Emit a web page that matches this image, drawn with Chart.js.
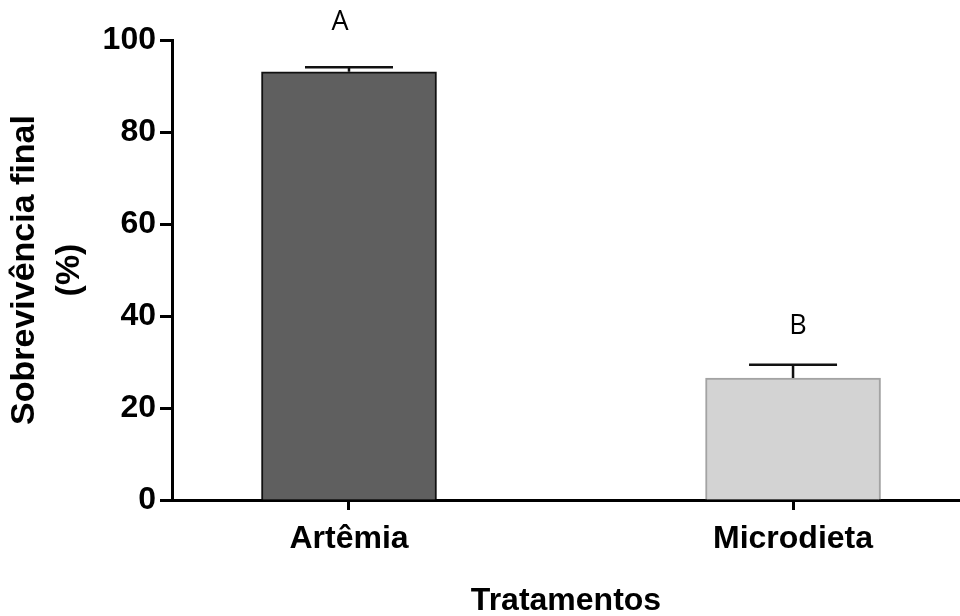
<!DOCTYPE html>
<html lang="pt">
<head>
<meta charset="utf-8">
<title>Sobrevivência final por tratamento</title>
<script src="https://cdn.jsdelivr.net/npm/chart.js@4.4.1/dist/chart.umd.min.js"></script>
<style>
  html, body { margin: 0; padding: 0; background: #ffffff; }
  #wrap { width: 960px; height: 616px; }
  canvas { display: block; }
</style>
</head>
<body>
<div id="wrap"><canvas id="chart" width="960" height="616"></canvas></div>
<script>
// Tratamentos e sobrevivência final (%) com desvio padrão
const categories = ['Artêmia', 'Microdieta'];
const survival = [93.1, 26.5];
const survivalError = [1.0, 2.9];
const groupLetters = ['A', 'B'];
const yTickValues = [0, 20, 40, 60, 80, 100];

const barFill = ['#5f5f5f', '#d3d3d3'];
const barBorder = ['#111111', '#a3a3a3'];

const fontFamily = '"Liberation Sans", Arial, Helvetica, sans-serif';
const boldFont = { family: fontFamily, size: 32, weight: 'bold' };

// Barras de erro (só para cima) e letras de significância
const errorBarsAndLetters = {
  id: 'errorBarsAndLetters',
  afterDatasetsDraw(chart, args, opts) {
    const ctx = chart.ctx;
    const y = chart.scales.y;
    const meta = chart.getDatasetMeta(0);
    ctx.save();
    meta.data.forEach((bar, i) => {
      const yBar = y.getPixelForValue(survival[i]);
      const yTop = y.getPixelForValue(survival[i] + survivalError[i]);
      ctx.strokeStyle = '#111111';
      ctx.lineWidth = 2.5;
      ctx.beginPath();
      ctx.moveTo(bar.x, yBar);
      ctx.lineTo(bar.x, yTop);
      ctx.moveTo(bar.x - opts.capHalf, yTop);
      ctx.lineTo(bar.x + opts.capHalf, yTop);
      ctx.stroke();

      ctx.fillStyle = '#000000';
      ctx.font = '27px "Open Sans", "Liberation Sans", sans-serif';
      ctx.textAlign = 'center';
      ctx.textBaseline = 'middle';
      ctx.fillText(groupLetters[i], bar.x + opts.letterDx[i], yTop - opts.letterGap[i]);
    });
    ctx.restore();
  }
};

new Chart(document.getElementById('chart'), {
  type: 'bar',
  data: {
    datasets: [{
      data: survival.map((v, i) => ({ x: i, y: v })),
      backgroundColor: barFill,
      borderColor: barBorder,
      borderWidth: 2,
      barThickness: 175
    }]
  },
  options: {
    responsive: false,
    devicePixelRatio: 1,
    animation: false,
    layout: { padding: { top: 40, right: 0, bottom: 0, left: 0 } },
    plugins: {
      legend: { display: false },
      tooltip: { enabled: false },
      errorBarsAndLetters: { capHalf: 44, letterGap: [45, 38], letterDx: [-9, 5] }
    },
    scales: {
      x: {
        type: 'linear',
        offset: false,
        min: -0.3986,
        max: 1.376,
        afterBuildTicks: (scale) => { scale.ticks = categories.map((_, i) => ({ value: i })); },
        afterFit: (scale) => { scale.height = 116; },
        ticks: {
          callback: (v) => categories[v],
          font: boldFont,
          color: '#000000',
          padding: 10,
          maxRotation: 0,
          autoSkip: false
        },
        grid: {
          offset: false,
          drawOnChartArea: false,
          drawTicks: true,
          tickLength: 10,
          tickWidth: 3,
          tickColor: '#000000'
        },
        border: { display: true, color: '#000000', width: 3 },
        title: {
          display: true,
          text: 'Tratamentos',
          font: { ...boldFont, lineHeight: 0.9 },
          color: '#000000',
          padding: { top: 0, bottom: 0 }
        }
      },
      y: {
        min: 0,
        max: 100,
        afterBuildTicks: (scale) => { scale.ticks = yTickValues.map(v => ({ value: v })); },
        afterFit: (scale) => { scale.width = 172; },
        ticks: {
          font: boldFont,
          color: '#000000',
          padding: 4
        },
        grid: {
          drawOnChartArea: false,
          drawTicks: true,
          tickLength: 12,
          tickWidth: 3,
          tickColor: '#000000'
        },
        border: { display: true, color: '#000000', width: 3 },
        title: {
          display: true,
          text: ['Sobrevivência final', '(%)'],
          font: { family: fontFamily, size: 34, weight: 'bold', lineHeight: 1.3 },
          color: '#000000',
          padding: { top: 3, bottom: 0 }
        }
      }
    }
  },
  plugins: [errorBarsAndLetters]
});
</script>
</body>
</html>
